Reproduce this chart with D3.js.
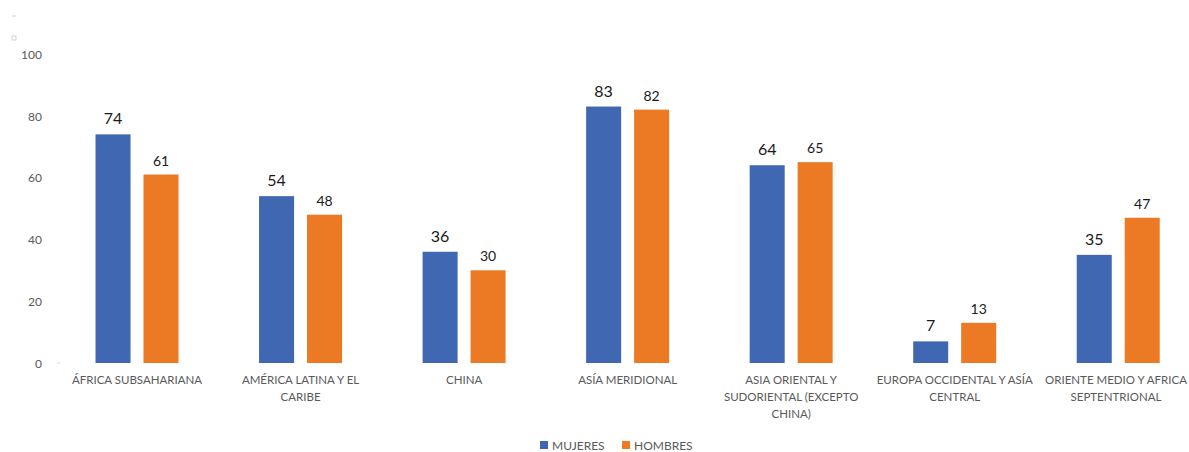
<!DOCTYPE html>
<html><head><meta charset="utf-8">
<script src="https://cdn.jsdelivr.net/npm/d3@7"></script>
<style>body{margin:0;background:#fff}svg{display:block}text{font-family:Lato,"Open Sans",sans-serif}</style>
</head><body>
<svg id="c" width="1189" height="452"></svg>
<script>
const categories = ["ÁFRICA SUBSAHARIANA","AMÉRICA LATINA Y EL CARIBE","CHINA","ASÍA MERIDIONAL","ASIA ORIENTAL Y SUDORIENTAL (EXCEPTO CHINA)","EUROPA OCCIDENTAL Y ASÍA CENTRAL","ORIENTE MEDIO Y AFRICA SEPTENTRIONAL"];
const categoryLabelLines = [
  ["ÁFRICA SUBSAHARIANA"],
  ["AMÉRICA LATINA Y EL","CARIBE"],
  ["CHINA"],
  ["ASÍA MERIDIONAL"],
  ["ASIA ORIENTAL Y","SUDORIENTAL (EXCEPTO","CHINA)"],
  ["EUROPA OCCIDENTAL Y ASÍA","CENTRAL"],
  ["ORIENTE MEDIO Y AFRICA","SEPTENTRIONAL"]
];
const mujeres = [74,54,36,83,64,7,35];
const hombres = [61,48,30,82,65,13,47];
const seriesNames = ["MUJERES","HOMBRES"];
const yTicks = [0,20,40,60,80,100];

const colors = ["#4068B2","#EC7A25"];
const svg = d3.select("#c");
const x = d3.scaleBand().domain(categories).range([55.25,1200]);
const y = d3.scaleLinear().domain([0,100]).range([363,54]);
const sub = d3.scaleBand().domain([0,1]).range([0,83]).paddingInner(0.27);

// y axis
const yAxis = d3.axisLeft(y).tickValues(yTicks).tickSize(0).tickPadding(0);
const yg = svg.append("g").attr("transform","translate(42,0)").call(yAxis);
yg.select(".domain").remove();
yg.selectAll("text").attr("fill","#595959").style("font-size","12px").attr("dy","0.35em");
svg.append("line").attr("x1",57).attr("x2",60).attr("y1",y(0)).attr("y2",y(0)).attr("stroke","#d9d9d9");

// top-left artifacts
svg.append("line").attr("x1",12).attr("x2",16).attr("y1",16).attr("y2",16).attr("stroke","#d0d0d0");
svg.append("rect").attr("x",12).attr("y",36).attr("width",4).attr("height",4).attr("fill","none").attr("stroke","#c8c8c8").attr("stroke-width",0.8);

const data = categories.map((c,i)=>({c, v:[mujeres[i],hombres[i]]}));
const groups = svg.append("g").selectAll("g").data(data).join("g")
  .attr("transform",d=>`translate(${x(d.c)+x.bandwidth()/2-41.5},0)`);
groups.selectAll("rect").data(d=>d.v.map((v,k)=>({v,k}))).join("rect")
  .attr("x",d=>sub(d.k)).attr("width",sub.bandwidth())
  .attr("y",d=>y(d.v)).attr("height",d=>y(0)-y(d.v))
  .attr("fill",d=>colors[d.k]);
groups.selectAll("text.v").data(d=>d.v.map((v,k)=>({v,k}))).join("text").attr("class","v")
  .attr("x",d=>sub(d.k)+sub.bandwidth()/2).attr("y",d=>y(d.v)-(d.k===0?10:9))
  .attr("text-anchor","middle").attr("fill","#1a1a1a")
  .style("font-size",d=>d.k===0?"16px":"14px").text(d=>d.v);

// x labels
const FS = "11.5px";
const xg = svg.append("g");
categories.forEach((c,ci)=>{
  const cx = Math.min(x(c)+x.bandwidth()/2, 1116);
  const t = xg.append("text").attr("text-anchor","middle").attr("fill","#595959").style("font-size",FS)
    .attr("x",cx).attr("y",384);
  categoryLabelLines[ci].forEach((l,i)=>t.append("tspan").attr("x",cx).attr("dy",i?17:0).text(l));
});

// legend
const leg = svg.append("g");
const lx=[540,622];
seriesNames.forEach((n,i)=>{
  leg.append("rect").attr("x",lx[i]).attr("y",441).attr("width",8).attr("height",8).attr("fill",colors[i]);
  leg.append("text").attr("x",lx[i]+12).attr("y",450).attr("fill","#595959").style("font-size","12px").text(n);
});
</script>
</body></html>
